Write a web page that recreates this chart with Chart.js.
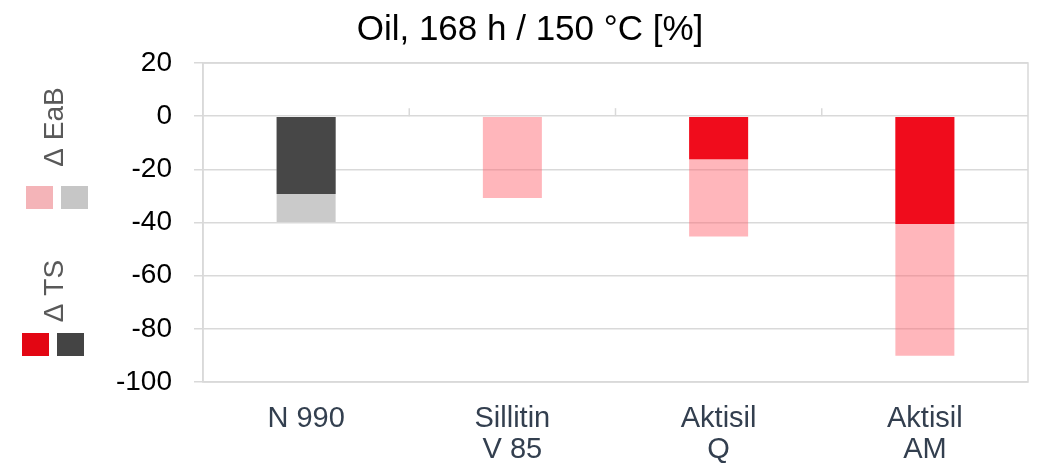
<!DOCTYPE html>
<html>
<head>
<meta charset="utf-8">
<script src="https://cdn.jsdelivr.net/npm/chart.js@4"></script>
<style>
  html, body { margin: 0; padding: 0; background: #fff; }
  #wrap { width: 1040px; height: 465px; }
</style>
</head>
<body>
<div id="wrap"><canvas id="oil-chart"></canvas></div>
<script>
var categories = [["N 990"], ["Sillitin", "V 85"], ["Aktisil", "Q"], ["Aktisil", "AM"]];
var tsValues = [-29.3, 0, -16.2, -40.6];
var eabValues = [-39.8, -30.8, -45.3, -90.1];
var yTicks = [20, 0, -20, -40, -60, -80, -100];

var tsColors = ['#474747', '#F00C1C', '#F00C1C', '#F00C1C'];
var eabColors = ['#CACACA', 'rgba(255,100,110,0.47)', 'rgba(255,100,110,0.47)', 'rgba(255,100,110,0.47)'];
var gridColor = '#D9D9D9';
var fontFamily = '"Liberation Sans", Arial, sans-serif';

// plot frame, category ticks on the zero line and the side legend
var extras = {
  id: 'extras',
  afterDatasetsDraw: function (chart) {
    var c = chart.ctx, a = chart.chartArea;
    var x = chart.scales.x, y = chart.scales.y;
    c.save();
    c.strokeStyle = gridColor;
    c.lineWidth = 1.5;
    c.strokeRect(a.left, a.top, a.right - a.left, a.bottom - a.top);
    var y0 = y.getPixelForValue(0);
    for (var i = 1; i < categories.length; i++) {
      var bx = (x.getPixelForValue(i - 1) + x.getPixelForValue(i)) / 2;
      c.beginPath();
      c.moveTo(bx, y0);
      c.lineTo(bx, y0 - 8);
      c.stroke();
    }
    c.restore();
  },
  afterDraw: function (chart) {
    var c = chart.ctx;
    c.save();
    c.fillStyle = '#595959';
    c.font = '28px ' + fontFamily;
    c.textAlign = 'center';
    c.textBaseline = 'middle';
    [['\u0394 EaB', 127], ['\u0394 TS', 291]].forEach(function (t) {
      c.save();
      c.translate(55, t[1]);
      c.rotate(-Math.PI / 2);
      c.fillText(t[0], 0, 0);
      c.restore();
    });
    c.fillStyle = '#F4B4B8'; c.fillRect(26, 186, 27, 23);
    c.fillStyle = '#C6C6C6'; c.fillRect(61, 186, 27, 23);
    c.fillStyle = '#E30613'; c.fillRect(22, 333, 27, 23);
    c.fillStyle = '#444444'; c.fillRect(57, 333, 27, 23);
    c.restore();
  }
};

var ctx = document.getElementById('oil-chart').getContext('2d');
var chart = new Chart(ctx, {
  type: 'bar',
  data: {
    labels: categories,
    datasets: [{
      label: '\u0394 TS',
      data: tsValues,
      backgroundColor: tsColors,
      borderWidth: 0
    }, {
      label: '\u0394 EaB',
      data: eabValues,
      backgroundColor: eabColors,
      borderWidth: 0
    }]
  },
  options: {
    responsive: true,
    maintainAspectRatio: false,
    animation: false,
    grouped: false,
    categoryPercentage: 1,
    barPercentage: 0.286,
    layout: { padding: { left: 32, right: 12, top: 0, bottom: 0 } },
    plugins: {
      legend: { display: false },
      tooltip: { enabled: false },
      title: {
        display: true,
        text: 'Oil, 168 h / 150 \u00B0C [%]',
        color: '#000',
        font: { family: fontFamily, size: 35, weight: 'normal' },
        padding: { top: 9, bottom: 12 }
      }
    },
    scales: {
      x: {
        afterFit: function (s) { s.height = 83; },
        grid: { display: false },
        border: { display: false },
        ticks: {
          color: '#333F4F',
          padding: 13,
          font: { family: fontFamily, size: 29, lineHeight: 1.08 }
        }
      },
      y: {
        min: -100,
        max: 20,
        afterFit: function (s) { s.width = 171; },
        afterBuildTicks: function (s) {
          s.ticks = yTicks.map(function (v) { return { value: v }; });
        },
        grid: { color: gridColor, lineWidth: 1.5, tickLength: 9, tickColor: gridColor },
        border: { color: gridColor, width: 1.5 },
        ticks: {
          color: '#000',
          padding: 22,
          font: { family: fontFamily, size: 28 }
        }
      }
    }
  },
  plugins: [extras]
});
</script>
</body>
</html>
